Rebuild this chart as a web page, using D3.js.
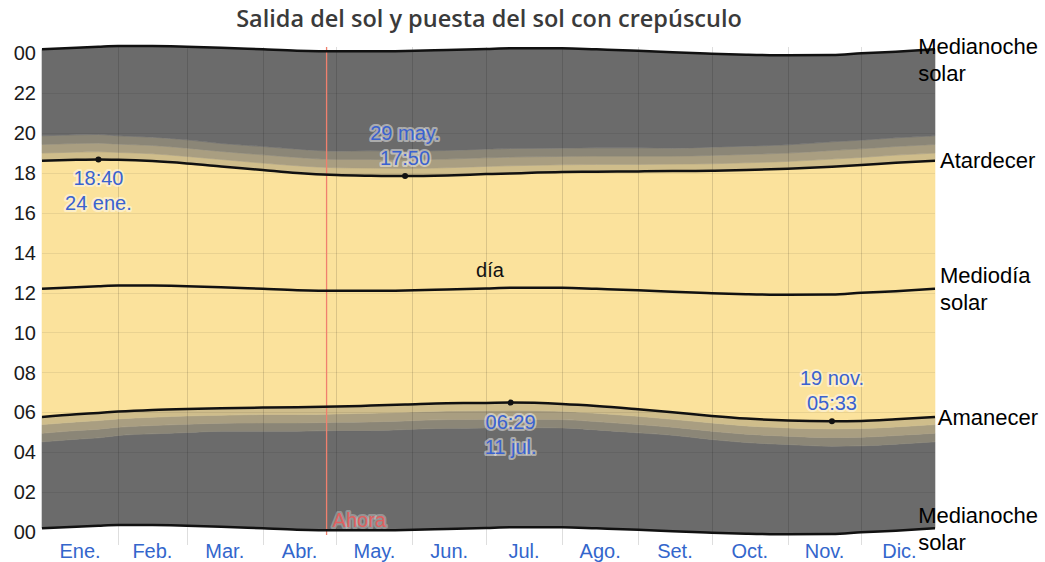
<!DOCTYPE html>
<html>
<head>
<meta charset="utf-8">
<style>
    body {
        margin: 0;
        background: #fff;
        font-family: "Liberation Sans", Arial, sans-serif;
    }
    .halo {
        paint-order: stroke;
        stroke-linejoin: round;
    }
</style>
</head>
<body>
<svg id="chart" width="1045" height="562"></svg>
<script src="https://d3js.org/d3.v7.min.js"></script>
<script>
// Lima, sample days through the year
var dates = ["2023-01-01", "2023-01-15", "2023-01-24", "2023-02-01", "2023-02-15", "2023-03-01",
             "2023-03-15", "2023-04-01", "2023-04-15", "2023-05-01", "2023-05-15", "2023-05-29",
             "2023-06-15", "2023-07-01", "2023-07-11", "2023-08-01", "2023-08-15", "2023-09-01",
             "2023-09-15", "2023-10-01", "2023-10-15", "2023-11-01", "2023-11-19", "2023-12-01",
             "2023-12-15", "2023-12-31"];
var sunrise = ["5:46", "5:54", "5:58", "6:02", "6:07", "6:10", "6:12", "6:14", "6:15", "6:17", "6:20", "6:23",
               "6:27", "6:28", "6:29", "6:25", "6:19", "6:09", "6:00", "5:49", "5:41", "5:35", "5:33", "5:34",
               "5:39", "5:46"];
var sunset = ["18:36", "18:39", "18:40", "18:39", "18:35", "18:28", "18:19", "18:08", "17:59", "17:53", "17:51", "17:50",
              "17:52", "17:56", "17:58", "18:02", "18:03", "18:04", "18:05", "18:06", "18:08", "18:12", "18:18", "18:23",
              "18:30", "18:36"];
var solarNoon = ["12:11", "12:16", "12:19", "12:21", "12:21", "12:19", "12:16", "12:11", "12:07", "12:05", "12:05", "12:06",
                 "12:09", "12:12", "12:14", "12:14", "12:11", "12:07", "12:02", "11:58", "11:55", "11:53", "11:54", "11:59",
                 "12:04", "12:11"];
// twilight band lengths in minutes (civil, then extra nautical, then extra astronomical)
var civilMin =    [23, 23, 23, 22, 22, 21, 21, 21, 22, 22, 23, 23, 23, 23, 23, 22, 22, 21, 21, 21, 22, 22, 23, 23, 23, 23];
var nauticalMin = [26, 26, 26, 25, 25, 25, 24, 25, 25, 25, 26, 26, 26, 26, 26, 25, 25, 25, 24, 25, 25, 25, 26, 26, 26, 26];
var astroMin =    [26, 26, 26, 25, 25, 25, 24, 25, 25, 25, 26, 26, 26, 26, 26, 25, 25, 25, 24, 25, 25, 25, 26, 26, 26, 26];

var months = ["Ene.", "Feb.", "Mar.", "Abr.", "May.", "Jun.", "Jul.", "Ago.", "Set.", "Oct.", "Nov.", "Dic."];
var hourTicks = [0, 2, 4, 6, 8, 10, 12, 14, 16, 18, 20, 22, 24];
var nowDate = "2023-04-27";

// marked extremes: date, series, label text
var markDates = ["2023-01-24", "2023-05-29", "2023-07-11", "2023-11-19"];
var markSeries = ["sunset", "sunset", "sunrise", "sunrise"];
var markIsMax = [true, false, true, false];
var markDay = ["24 ene.", "29 may.", "11 jul.", "19 nov."];

var colors = {
    night: "#6b6b6b",
    astro: "#8b8677",
    nautical: "#a99e81",
    civil: "#cfbd8b",
    day: "#fbe29c"
};

var svg = d3.select("#chart");
var plotLeft = 42, plotRight = 935, plotTop = 53, plotBottom = 532;

function hrs(s) {
    var p = s.split(":");
    return +p[0] + (+p[1]) / 60;
}

var parse = d3.timeParse("%Y-%m-%d");
var data = dates.map(function(d, i) {
    var rise = hrs(sunrise[i]), set = hrs(sunset[i]), noon = hrs(solarNoon[i]);
    var c = civilMin[i] / 60, n = nauticalMin[i] / 60, a = astroMin[i] / 60;
    return {
        date: parse(d),
        rise: rise, set: set, noon: noon,
        midLow: noon - 12, midHigh: noon + 12,
        dawnC: rise - c, dawnN: rise - c - n, dawnA: rise - c - n - a,
        duskC: set + c, duskN: set + c + n, duskA: set + c + n + a,
        sunrise: sunrise[i], sunset: sunset[i]
    };
});

var x = d3.scaleTime()
    .domain([parse("2023-01-01"), parse("2023-12-31")])
    .range([plotLeft, plotRight]);
var y = d3.scaleLinear().domain([0, 24]).range([plotBottom, plotTop]);

// bands
var bands = [
    ["midLow", "dawnA", colors.night],
    ["dawnA", "dawnN", colors.astro],
    ["dawnN", "dawnC", colors.nautical],
    ["dawnC", "rise", colors.civil],
    ["rise", "set", colors.day],
    ["set", "duskC", colors.civil],
    ["duskC", "duskN", colors.nautical],
    ["duskN", "duskA", colors.astro],
    ["duskA", "midHigh", colors.night]
];
var gBands = svg.append("g");
bands.forEach(function(b) {
    var area = d3.area()
        .curve(d3.curveMonotoneX)
        .x(function(d) { return x(d.date); })
        .y0(function(d) { return y(d[b[0]]); })
        .y1(function(d) { return y(d[b[1]]); });
    gBands.append("path")
        .datum(data)
        .attr("d", area)
        .attr("fill", b[2])
        .attr("stroke", b[2])
        .attr("stroke-width", 0.6);
});

// grid
var monthStarts = d3.timeMonths(parse("2023-02-01"), parse("2023-12-02"));
svg.append("g").selectAll("line")
    .data(monthStarts)
    .enter().append("line")
    .attr("x1", function(d) { return Math.round(x(d)) + 0.5; })
    .attr("x2", function(d) { return Math.round(x(d)) + 0.5; })
    .attr("y1", 47)
    .attr("y2", 545)
    .attr("stroke", "rgba(0,0,0,0.13)");

svg.append("g").selectAll("line")
    .data(hourTicks.slice(1, -1))
    .enter().append("line")
    .attr("x1", plotLeft)
    .attr("x2", plotRight)
    .attr("y1", function(d) { return Math.round(y(d)) + 0.5; })
    .attr("y2", function(d) { return Math.round(y(d)) + 0.5; })
    .attr("stroke", "rgba(0,0,0,0.07)");

// now line
var xNow = x(parse(nowDate));
svg.append("line")
    .attr("x1", xNow).attr("x2", xNow)
    .attr("y1", 47).attr("y2", 535)
    .attr("stroke", "#f0806e")
    .attr("stroke-width", 1.3);

// lines
var lineKeys = ["midLow", "rise", "noon", "set", "midHigh"];
lineKeys.forEach(function(k) {
    var line = d3.line()
        .curve(d3.curveMonotoneX)
        .x(function(d) { return x(d.date); })
        .y(function(d) { return y(d[k]); });
    svg.append("path")
        .datum(data)
        .attr("d", line)
        .attr("fill", "none")
        .attr("stroke", "#111")
        .attr("stroke-width", 2.5);
});

// axes
svg.append("g").selectAll("text")
    .data(hourTicks)
    .enter().append("text")
    .attr("x", 36)
    .attr("y", function(d) { return y(d); })
    .attr("dy", "0.36em")
    .attr("text-anchor", "end")
    .attr("font-size", 20)
    .attr("fill", "#1a1a1a")
    .text(function(d) { return d3.format("02d")(d % 24); });

svg.append("g").selectAll("text")
    .data(months)
    .enter().append("text")
    .attr("x", function(d, i) {
        var a = new Date(2023, i, 1), b = new Date(2023, i + 1, 1);
        return x(new Date((+a + +b) / 2));
    })
    .attr("y", 558)
    .attr("text-anchor", "middle")
    .attr("font-size", 20)
    .attr("fill", "#3366cc")
    .text(function(d) { return d; });

// title
svg.append("text")
    .attr("x", 489)
    .attr("y", 27)
    .attr("text-anchor", "middle")
    .attr("font-family", "'Open Sans', sans-serif")
    .attr("font-weight", 600)
    .attr("font-size", 23.5)
    .attr("fill", "#3a3a3a")
    .text("Salida del sol y puesta del sol con crepúsculo");

// día
svg.append("text")
    .attr("x", 490)
    .attr("y", 270)
    .attr("dy", "0.35em")
    .attr("text-anchor", "middle")
    .attr("font-size", 20)
    .attr("fill", "#111")
    .text("día");

// Ahora
svg.append("text")
    .attr("class", "halo")
    .attr("x", xNow + 6)
    .attr("y", 520)
    .attr("dy", "0.35em")
    .attr("font-size", 20)
    .attr("fill", "#e06060")
    .attr("stroke", "rgba(255,255,255,0.3)")
    .attr("stroke-width", 4)
    .text("Ahora");

// extremes
markDates.forEach(function(md, i) {
    var d = data[dates.indexOf(md)];
    var key = markSeries[i] == "sunset" ? "set" : "rise";
    var px = x(d.date), py = y(d[key]);
    svg.append("circle")
        .attr("cx", px).attr("cy", py).attr("r", 3)
        .attr("fill", "#111");
    var lines = markIsMax[i] ? [d[markSeries[i]], markDay[i]] : [markDay[i], d[markSeries[i]]];
    if (lines[0].length == 4) lines[0] = "0" + lines[0];
    if (lines[1].length == 4) lines[1] = "0" + lines[1];
    var y0 = markIsMax[i] ? py + 19 : py - 43;
    lines.forEach(function(t, j) {
        svg.append("text")
            .attr("class", "halo")
            .attr("x", px)
            .attr("y", y0 + j * 25)
            .attr("dy", "0.35em")
            .attr("text-anchor", "middle")
            .attr("font-size", 20)
            .attr("fill", "#3a62d0")
            .attr("stroke", "rgba(255,255,255,0.45)")
            .attr("stroke-width", 4)
            .text(t);
    });
});

// right side labels
var last = data[data.length - 1];
var rightLabels = [
    [["Medianoche", "solar"], last.midHigh],
    [["Atardecer"], last.set],
    [["Mediodía", "solar"], last.noon],
    [["Amanecer"], last.rise],
    [["Medianoche", "solar"], last.midLow]
];
rightLabels.forEach(function(r) {
    var g = svg.append("g");
    var cy = Math.max(y(r[1]), 60);
    var texts = r[0].map(function(t, j) {
        return g.append("text")
            .attr("y", cy + (j - (r[0].length - 1) / 2) * 27)
            .attr("dy", "0.35em")
            .attr("font-size", 22)
            .attr("fill", "#000")
            .text(t);
    });
    var w = d3.max(texts, function(t) { return t.node().getComputedTextLength(); });
    var tx = Math.min(940, 1038 - w);
    texts.forEach(function(t) { t.attr("x", tx); });
});
</script>
</body>
</html>
